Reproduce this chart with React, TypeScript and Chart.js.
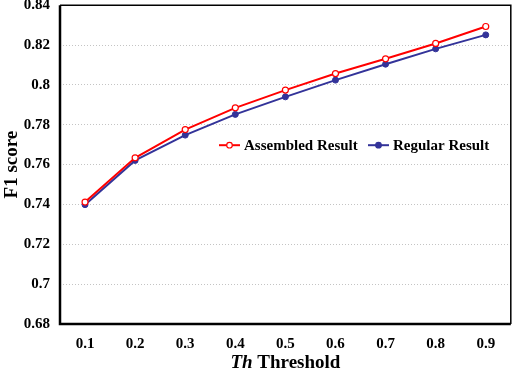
import React, { useEffect, useRef } from "react";
import { Chart, registerables } from "chart.js";

Chart.register(...registerables);

const thresholds = ["0.1", "0.2", "0.3", "0.4", "0.5", "0.6", "0.7", "0.8", "0.9"];
const assembledResult = [0.7412, 0.7634, 0.7776, 0.7885, 0.7974, 0.8057, 0.8131, 0.8208, 0.8293];
const regularResult = [0.7399, 0.7621, 0.7748, 0.7852, 0.794, 0.8024, 0.8104, 0.8181, 0.8251];
const seriesNames = ["Assembled Result", "Regular Result"];
const yTitle = "F1 score";
const xTitleItalic = "Th";
const xTitleRest = " Threshold";

const RED = "#ff0000";
const BLUE = "#333399";
const FONT = "'Liberation Serif', 'Times New Roman', serif";

const decorPlugin = {
  id: "decor",
  afterDatasetsDraw(chart: any) {
    const { ctx, chartArea } = chart;
    const { left, right, top, bottom } = chartArea;
    ctx.save();
    // frame
    ctx.strokeStyle = "#000";
    ctx.lineWidth = 1.5;
    ctx.beginPath();
    ctx.moveTo(left, top);
    ctx.lineTo(right, top);
    ctx.lineTo(right, bottom);
    ctx.stroke();
    ctx.lineWidth = 2.5;
    ctx.beginPath();
    ctx.moveTo(left, top);
    ctx.lineTo(left, bottom);
    ctx.lineTo(right, bottom);
    ctx.stroke();

    // legend
    const ly = top + 140;
    const items = [
      { x: left + 159, color: RED, fill: "#fff", text: seriesNames[0] },
      { x: left + 308, color: BLUE, fill: BLUE, text: seriesNames[1] },
    ];
    ctx.font = `bold 15px ${FONT}`;
    ctx.textBaseline = "middle";
    ctx.textAlign = "left";
    for (const it of items) {
      ctx.strokeStyle = it.color;
      ctx.lineWidth = 2;
      ctx.beginPath();
      ctx.moveTo(it.x, ly);
      ctx.lineTo(it.x + 21, ly);
      ctx.stroke();
      ctx.beginPath();
      ctx.arc(it.x + 10.5, ly, 2.8, 0, Math.PI * 2);
      ctx.fillStyle = it.fill;
      ctx.fill();
      ctx.lineWidth = 1.2;
      ctx.stroke();
      ctx.fillStyle = "#000";
      ctx.fillText(it.text, it.x + 25, ly + 1);
    }

    // x title
    const cx = (left + right) / 2;
    ctx.textBaseline = "alphabetic";
    ctx.font = `italic bold 19px ${FONT}`;
    const w1 = ctx.measureText(xTitleItalic).width;
    ctx.font = `bold 19px ${FONT}`;
    const w2 = ctx.measureText(xTitleRest).width;
    const sx = cx - (w1 + w2) / 2;
    ctx.font = `italic bold 19px ${FONT}`;
    ctx.fillText(xTitleItalic, sx, 368);
    ctx.font = `bold 19px ${FONT}`;
    ctx.fillText(xTitleRest, sx + w1, 368);

    // y title
    ctx.translate(12, (top + bottom) / 2);
    ctx.rotate(-Math.PI / 2);
    ctx.textAlign = "center";
    ctx.textBaseline = "middle";
    ctx.font = `bold 19px ${FONT}`;
    ctx.fillText(yTitle, 0, 0);
    ctx.restore();
  },
};

export default function App() {
  const ref = useRef<HTMLCanvasElement>(null);
  useEffect(() => {
    document.body.style.margin = "0";
    const chart = new Chart(ref.current!, {
      type: "line",
      data: {
        labels: thresholds,
        datasets: [
          {
            label: seriesNames[0],
            data: assembledResult,
            borderColor: RED,
            backgroundColor: "#fff",
            pointBorderColor: RED,
            pointBackgroundColor: "#fff",
            borderWidth: 2,
            pointRadius: 3,
            pointBorderWidth: 1.2,
          },
          {
            label: seriesNames[1],
            data: regularResult,
            borderColor: BLUE,
            backgroundColor: BLUE,
            pointBorderColor: BLUE,
            pointBackgroundColor: BLUE,
            borderWidth: 2,
            pointRadius: 3,
            pointBorderWidth: 1,
          },
        ],
      },
      plugins: [decorPlugin],
      options: {
        animation: false,
        responsive: false,
        layout: { padding: { left: 0, top: 5, right: 0, bottom: 0 } },
        plugins: { legend: { display: false }, tooltip: { enabled: false } },
        scales: {
          x: {
            offset: true,
            grid: { display: false, drawTicks: false },
            border: { display: false },
            ticks: {
              color: "#000",
              font: { family: FONT, size: 15, weight: "bold" },
              padding: 11,
              maxRotation: 0,
            },
            afterFit: (s: any) => {
              s.height = 48;
              s.paddingLeft = 0;
              s.paddingRight = 0;
            },
          },
          y: {
            min: 0.68,
            max: 0.84,
            grid: {
              color: "#c4c4c4",
              lineWidth: 1,
              drawTicks: false,
            },
            border: { display: false, dash: [1, 2] },
            ticks: {
              stepSize: 0.02,
              color: "#000",
              font: { family: FONT, size: 15, weight: "bold" },
              padding: 10,
              callback: (v: any) => String(Math.round(Number(v) * 100) / 100),
            },
            afterFit: (s: any) => {
              s.width = 60;
              s.paddingTop = 0;
              s.paddingBottom = 0;
            },
          },
        },
      },
    } as any);
    return () => chart.destroy();
  }, []);
  return <canvas ref={ref} width={516} height={372} style={{ display: "block" }} />;
}
